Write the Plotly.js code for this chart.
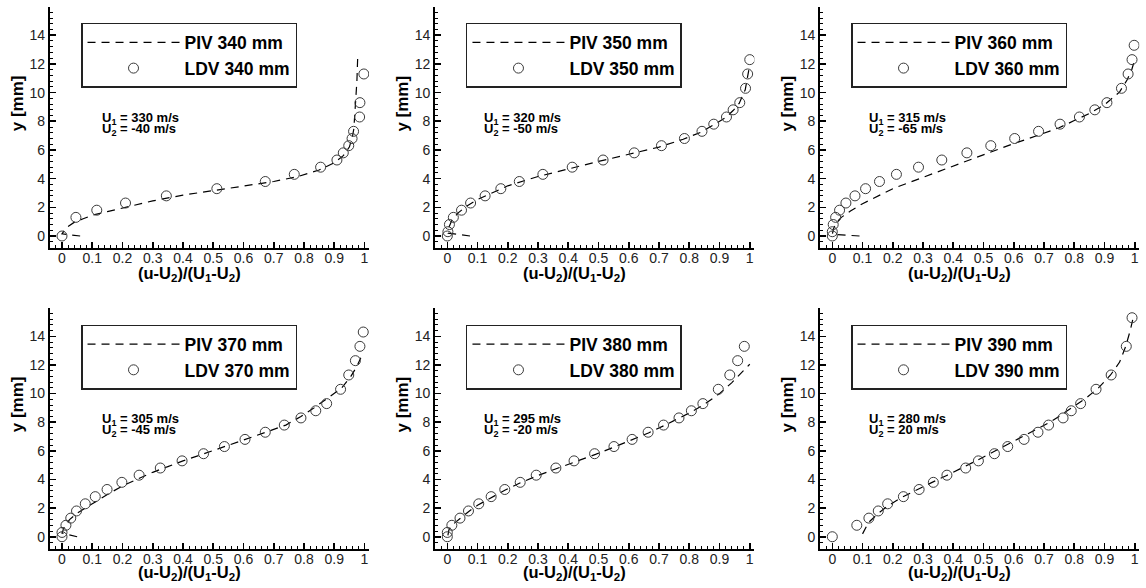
<!DOCTYPE html>
<html>
<head>
<meta charset="utf-8">
<script src="https://cdn.plot.ly/plotly-3.0.1.min.js"></script>
<style>
  html, body { margin: 0; padding: 0; background: #fff; }
  #chart { width: 1146px; height: 588px; }
</style>
</head>
<body>
<div id="chart"></div>
<script>
// Streamwise stations (mm) and free-stream velocities for each profile
const stations = ['340', '350', '360', '370', '380', '390'];
const u1Labels = ['330', '320', '315', '305', '295', '280'];
const u2Labels = ['-40', '-50', '-65', '-45', '-20', '20'];

const xTickLabels = ['0', '0.1', '0.2', '0.3', '0.4', '0.5', '0.6', '0.7', '0.8', '0.9', '1'];
const yTickLabels = ['0', '2', '4', '6', '8', '10', '12', '14'];

// LDV measurements: normalised velocity (u-U2)/(U1-U2) and height y [mm]
const ldv340U = [0, 0.046, 0.115, 0.21, 0.345, 0.512, 0.672, 0.768, 0.855, 0.909, 0.930, 0.948, 0.959, 0.964, 0.984, 0.985, 0.998];
const ldv340Y = [0, 1.3, 1.8, 2.3, 2.8, 3.3, 3.8, 4.3, 4.8, 5.3, 5.8, 6.3, 6.8, 7.3, 8.3, 9.3, 11.3];

const ldv350U = [0, 0.002, 0.007, 0.02, 0.047, 0.077, 0.125, 0.177, 0.238, 0.316, 0.413, 0.515, 0.618, 0.708, 0.784, 0.842, 0.881, 0.923, 0.945, 0.967, 0.986, 0.993, 1.0];
const ldv350Y = [0, 0.3, 0.8, 1.3, 1.8, 2.3, 2.8, 3.3, 3.8, 4.3, 4.8, 5.3, 5.8, 6.3, 6.8, 7.3, 7.8, 8.3, 8.8, 9.3, 10.3, 11.3, 12.3];

const ldv360U = [0, 0.0, 0.003, 0.011, 0.024, 0.045, 0.075, 0.11, 0.156, 0.212, 0.285, 0.362, 0.445, 0.524, 0.603, 0.682, 0.753, 0.817, 0.868, 0.908, 0.956, 0.978, 0.991, 0.998];
const ldv360Y = [0, 0.3, 0.8, 1.3, 1.8, 2.3, 2.8, 3.3, 3.8, 4.3, 4.8, 5.3, 5.8, 6.3, 6.8, 7.3, 7.8, 8.3, 8.8, 9.3, 10.3, 11.3, 12.3, 13.3];

const ldv370U = [0, 0.0, 0.013, 0.029, 0.048, 0.077, 0.11, 0.149, 0.198, 0.255, 0.325, 0.397, 0.468, 0.537, 0.605, 0.672, 0.735, 0.79, 0.839, 0.875, 0.921, 0.948, 0.970, 0.985, 0.996];
const ldv370Y = [0, 0.3, 0.8, 1.3, 1.8, 2.3, 2.8, 3.3, 3.8, 4.3, 4.8, 5.3, 5.8, 6.3, 6.8, 7.3, 7.8, 8.3, 8.8, 9.3, 10.3, 11.3, 12.3, 13.3, 14.3];

const ldv380U = [0, 0.0, 0.015, 0.042, 0.07, 0.104, 0.145, 0.19, 0.241, 0.294, 0.359, 0.419, 0.487, 0.551, 0.611, 0.664, 0.715, 0.766, 0.807, 0.845, 0.896, 0.934, 0.96, 0.982];
const ldv380Y = [0, 0.3, 0.8, 1.3, 1.8, 2.3, 2.8, 3.3, 3.8, 4.3, 4.8, 5.3, 5.8, 6.3, 6.8, 7.3, 7.8, 8.3, 8.8, 9.3, 10.3, 11.3, 12.3, 13.3];

const ldv390U = [0, 0.081, 0.121, 0.152, 0.183, 0.235, 0.287, 0.334, 0.379, 0.441, 0.483, 0.536, 0.58, 0.634, 0.68, 0.715, 0.763, 0.79, 0.821, 0.872, 0.922, 0.972, 0.991];
const ldv390Y = [0, 0.8, 1.3, 1.8, 2.3, 2.8, 3.3, 3.8, 4.3, 4.8, 5.3, 5.8, 6.3, 6.8, 7.3, 7.8, 8.3, 8.8, 9.3, 10.3, 11.3, 13.3, 15.3];

// PIV profiles
const piv340U = [0.06, 0.0, 0.015, 0.04, 0.07, 0.1, 0.15, 0.2, 0.3, 0.4, 0.5, 0.6, 0.7, 0.78, 0.85, 0.9, 0.93, 0.95, 0.96, 0.965, 0.968, 0.972, 0.975, 0.978];
const piv340Y = [0, 0.15, 0.6, 0.95, 1.2, 1.45, 1.7, 1.95, 2.45, 2.85, 3.15, 3.45, 3.8, 4.15, 4.6, 5.1, 5.6, 6.2, 6.9, 7.5, 8.3, 9.5, 10.8, 12.7];

const piv350U = [0.075, 0.003, 0.005, 0.015, 0.035, 0.065, 0.1, 0.15, 0.2, 0.3, 0.4, 0.5, 0.6, 0.7, 0.78, 0.84, 0.88, 0.92, 0.945, 0.965, 0.985, 0.993, 0.997];
const piv350Y = [0, 0.2, 0.6, 1.1, 1.6, 2.1, 2.55, 3.05, 3.5, 4.15, 4.7, 5.2, 5.7, 6.2, 6.75, 7.25, 7.75, 8.25, 8.75, 9.25, 10.2, 11.0, 11.6];

const piv360U = [0.09, 0.0, 0.004, 0.012, 0.03, 0.06, 0.1, 0.15, 0.2, 0.25, 0.3, 0.35, 0.4, 0.45, 0.5, 0.55, 0.6, 0.65, 0.7, 0.75, 0.8, 0.85, 0.9, 0.95, 0.975, 0.99, 0.997];
const piv360Y = [0, 0.12, 0.5, 0.9, 1.3, 1.75, 2.25, 2.8, 3.3, 3.7, 4.1, 4.5, 4.9, 5.3, 5.7, 6.05, 6.45, 6.8, 7.15, 7.55, 8.05, 8.55, 9.15, 10.05, 10.9, 11.6, 12.1];

const piv370U = [0.05, 0.0, 0.008, 0.025, 0.05, 0.08, 0.11, 0.15, 0.2, 0.25, 0.3, 0.35, 0.4, 0.47, 0.54, 0.61, 0.68, 0.74, 0.79, 0.83, 0.86, 0.9, 0.925, 0.955, 0.975, 0.988];
const piv370Y = [0, 0.25, 0.7, 1.2, 1.65, 2.05, 2.45, 2.95, 3.55, 4.05, 4.5, 4.9, 5.3, 5.8, 6.3, 6.8, 7.35, 7.8, 8.4, 8.95, 9.4, 10.0, 10.4, 11.2, 11.9, 12.5];

const piv380U = [0.002, 0.005, 0.015, 0.04, 0.07, 0.1, 0.145, 0.19, 0.24, 0.29, 0.36, 0.42, 0.49, 0.55, 0.61, 0.665, 0.715, 0.765, 0.81, 0.85, 0.9, 0.94, 0.97, 1.0];
const piv380Y = [0.1, 0.45, 0.8, 1.25, 1.75, 2.2, 2.75, 3.25, 3.75, 4.2, 4.75, 5.2, 5.75, 6.25, 6.75, 7.25, 7.75, 8.25, 8.75, 9.25, 10.0, 10.75, 11.4, 12.05];

const piv390U = [0.1, 0.12, 0.15, 0.18, 0.23, 0.28, 0.33, 0.38, 0.43, 0.48, 0.53, 0.58, 0.63, 0.68, 0.72, 0.76, 0.8, 0.84, 0.88, 0.92, 0.95, 0.97, 0.985, 0.997];
const piv390Y = [0.2, 1.0, 1.6, 2.1, 2.75, 3.3, 3.8, 4.3, 4.8, 5.35, 5.9, 6.45, 7.0, 7.5, 8.0, 8.55, 9.1, 9.7, 10.4, 11.3, 12.2, 13.3, 14.4, 15.5];

const pivU = [piv340U, piv350U, piv360U, piv370U, piv380U, piv390U];
const pivY = [piv340Y, piv350Y, piv360Y, piv370Y, piv380Y, piv390Y];
const ldvU = [ldv340U, ldv350U, ldv360U, ldv370U, ldv380U, ldv390U];
const ldvY = [ldv340Y, ldv350Y, ldv360Y, ldv370Y, ldv380Y, ldv390Y];

// Minor tick positions between the labelled ticks
function minorTicks(start, stop, step) {
  const vals = [];
  const n = Math.round((stop - start) / step);
  for (let k = 0; k <= n; k++) vals.push(+(start + k * step).toFixed(4));
  return vals;
}
const xMinor = minorTicks(-0.04, 1.0, 0.02);
const yMinor = minorTicks(-0.8, 16.0, 0.4);

// Panel layout (3 columns x 2 rows)
const FONT = '"Liberation Sans", Arial, Helvetica, sans-serif';
const colDomains = [[0.04354, 0.32199], [0.37976, 0.65820], [0.71571, 0.99415]];
const rowDomains = [[0.5779, 0.9888], [0.0665, 0.4767]];
const legendX = [0.0707, 0.4066, 0.7426];
const legendY = [0.9609, 0.4478];
const noteX = [0.125, 0.114, 0.114];
const xTitleY = [-0.108, -0.099];

const traces = [];
const layout = {
  width: 1146, height: 588, autosize: false,
  margin: { l: 0, r: 0, t: 0, b: 0, pad: 0 },
  paper_bgcolor: '#fff', plot_bgcolor: '#fff',
  font: { family: FONT, color: '#000' },
  showlegend: true,
  annotations: []
};

for (let i = 0; i < 6; i++) {
  const col = i % 3, row = Math.floor(i / 3);
  const sfx = i === 0 ? '' : String(i + 1);
  const xa = 'x' + sfx, ya = 'y' + sfx;
  const lg = 'legend' + sfx;

  traces.push({
    type: 'scatter', mode: 'lines', x: pivU[i], y: pivY[i],
    xaxis: xa, yaxis: ya, legend: lg,
    name: 'PIV ' + stations[i] + ' mm',
    line: { color: '#000', width: 1.2, dash: '8px,6px' },
    hoverinfo: 'skip'
  });
  traces.push({
    type: 'scatter', mode: 'markers', x: ldvU[i], y: ldvY[i],
    xaxis: xa, yaxis: ya, legend: lg,
    name: 'LDV ' + stations[i] + ' mm',
    marker: { symbol: 'circle-open', size: 10, color: '#3a3a3a', line: { width: 1, color: '#3a3a3a' } },
    hoverinfo: 'skip'
  });

  layout['xaxis' + sfx] = {
    domain: colDomains[col], anchor: ya, range: [-0.04, 1.015],
    showline: true, linewidth: 2, linecolor: '#000', mirror: false,
    showgrid: false, zeroline: false, fixedrange: true,
    tickmode: 'array', tickvals: xTickLabels.map(Number), ticktext: xTickLabels,
    ticks: 'inside', ticklen: 6, tickwidth: 1.6, tickcolor: '#000',
    ticklabelstandoff: -4,
    minor: { tickmode: 'array', tickvals: xMinor, ticks: 'inside', ticklen: 3, tickwidth: 1, tickcolor: '#000', showgrid: false },
    tickfont: { family: FONT, size: 14, color: '#222' }
  };
  layout['yaxis' + sfx] = {
    domain: rowDomains[row], anchor: xa, range: [-0.85, 16],
    showline: true, linewidth: 2, linecolor: '#000', mirror: false,
    showgrid: false, zeroline: false, fixedrange: true,
    tickmode: 'array', tickvals: yTickLabels.map(Number), ticktext: yTickLabels,
    ticks: 'inside', ticklen: 6, tickwidth: 1.6, tickcolor: '#000',
    minor: { tickmode: 'array', tickvals: yMinor, ticks: 'inside', ticklen: 3, tickwidth: 1, tickcolor: '#000', showgrid: false },
    tickfont: { family: FONT, size: 14, color: '#222' }
  };

  layout[lg] = {
    x: legendX[col], y: legendY[row], xanchor: 'left', yanchor: 'top',
    bgcolor: '#fff', bordercolor: '#222', borderwidth: 1.5,
    font: { family: FONT, size: 17.5, color: '#000', weight: 'bold' },
    itemwidth: 92, tracegroupgap: 0, itemclick: false, itemdoubleclick: false
  };

  // Axis titles
  layout.annotations.push({
    xref: xa + ' domain', yref: ya, x: -0.1034, y: 9.25,
    xanchor: 'center', yanchor: 'middle', textangle: -90, showarrow: false,
    text: 'y [mm]', font: { family: FONT, size: 17, color: '#000', weight: 'bold' }
  });
  layout.annotations.push({
    xref: xa, yref: ya + ' domain', x: 0.422, y: xTitleY[row],
    xanchor: 'center', yanchor: 'middle', showarrow: false,
    text: '(u-U<sub>2</sub>)/(U<sub>1</sub>-U<sub>2</sub>)',
    font: { family: FONT, size: 16.5, color: '#000', weight: 'bold' }
  });

  // Free-stream velocity notes
  layout.annotations.push({
    xref: xa, yref: ya, x: noteX[col], y: 8.2,
    xanchor: 'left', yanchor: 'middle', showarrow: false,
    text: 'U<sub>1</sub> = ' + u1Labels[i] + ' m/s',
    font: { family: FONT, size: 13, color: '#000', weight: 'bold' }
  });
  layout.annotations.push({
    xref: xa, yref: ya, x: noteX[col], y: 7.4,
    xanchor: 'left', yanchor: 'middle', showarrow: false,
    text: 'U<sub>2</sub> = ' + u2Labels[i] + ' m/s',
    font: { family: FONT, size: 13, color: '#000', weight: 'bold' }
  });
}

Plotly.newPlot('chart', traces, layout, { staticPlot: true, displayModeBar: false });
</script>
</body>
</html>
